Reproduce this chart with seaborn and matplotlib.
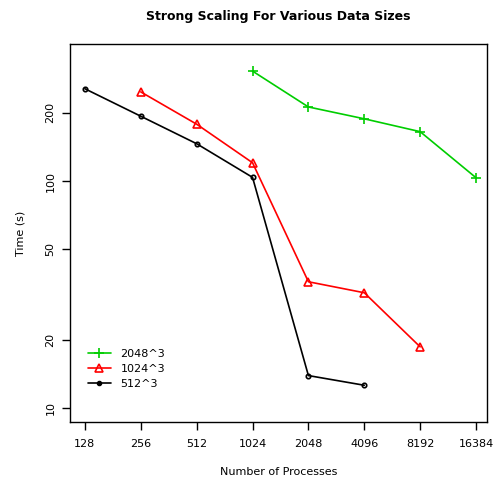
import matplotlib
matplotlib.use("Agg")
import matplotlib.pyplot as plt
import seaborn as sns
import pandas as pd
from matplotlib.lines import Line2D
from matplotlib.ticker import FixedLocator, NullLocator

procs_2048 = [1024, 2048, 4096, 8192, 16384]
time_2048 = [305, 212, 188, 165, 103.4]
procs_1024 = [256, 512, 1024, 2048, 4096, 8192]
time_1024 = [247, 178, 120.4, 36.0, 32.2, 18.6]
procs_512 = [128, 256, 512, 1024, 2048, 4096]
time_512 = [255, 193, 146, 103.8, 13.9, 12.6]

x_ticks = [128, 256, 512, 1024, 2048, 4096, 8192, 16384]
y_ticks = [10, 20, 50, 100, 200]
series_names = ["2048^3", "1024^3", "512^3"]
colors = ["#00CD00", "#FF0000", "#000000"]

df = pd.concat([
    pd.DataFrame({"procs": procs_2048, "time": time_2048, "size": series_names[0]}),
    pd.DataFrame({"procs": procs_1024, "time": time_1024, "size": series_names[1]}),
    pd.DataFrame({"procs": procs_512, "time": time_512, "size": series_names[2]}),
])

sns.set_style("white")
plt.rcParams["font.family"] = ["DejaVu Sans"]
plt.rcParams["text.color"] = "black"
plt.rcParams["axes.labelcolor"] = "black"

fig = plt.figure(figsize=(4.93, 4.83), dpi=100)
ax = fig.add_axes([70/493, 1-422/483, 417/493, 378/483])

markers = {"2048^3": "+", "1024^3": "^", "512^3": "o"}
msize = {"2048^3": 7.5, "1024^3": 6, "512^3": 3.2}
for name, col in zip(series_names, colors):
    sub = df[df["size"] == name]
    sns.lineplot(data=sub, x="procs", y="time", ax=ax, color=col, lw=1.2,
                 marker=markers[name], markersize=msize[name],
                 markerfacecolor="none" if name != "2048^3" else col,
                 markeredgecolor=col, markeredgewidth=1.2, legend=False)

ax.set_xscale("log", base=2)
ax.set_yscale("log")
ax.set_xlim(106.4, 18770)
ax.set_ylim(8.68, 401.5)
ax.xaxis.set_major_locator(FixedLocator(x_ticks))
ax.xaxis.set_minor_locator(NullLocator())
ax.set_xticklabels([str(v) for v in x_ticks])
ax.yaxis.set_major_locator(FixedLocator(y_ticks))
ax.yaxis.set_minor_locator(NullLocator())
ax.set_yticklabels([str(v) for v in y_ticks], rotation=90, va="center")

ax.tick_params(axis="both", direction="out", length=5.5, width=1, labelsize=8,
               color="black", labelcolor="black", left=True, bottom=True)
ax.tick_params(axis="x", pad=7)
ax.tick_params(axis="y", pad=5)
for s in ax.spines.values():
    s.set_visible(True)
    s.set_color("black")
    s.set_linewidth(1)

ax.set_xlabel("Number of Processes", fontsize=8, labelpad=13, color="black")
ax.set_ylabel("Time (s)", fontsize=8, labelpad=14, color="black")
ax.set_title("Strong Scaling For Various Data Sizes", fontsize=9,
             fontweight="bold", pad=17, color="black")

handles = [
    Line2D([], [], color=colors[0], marker="+", markersize=7.5, lw=1.2, markeredgewidth=1.2),
    Line2D([], [], color=colors[1], marker="^", markersize=6, lw=1.2,
           markerfacecolor="none", markeredgewidth=1.2),
    Line2D([], [], color=colors[2], marker="o", markersize=3, lw=1.2),
]
leg = ax.legend(handles, series_names, loc="lower left", bbox_to_anchor=(0.02, 0.062),
                frameon=False, fontsize=8, handlelength=2.0, labelspacing=0.44,
                handletextpad=0.9)
for t in leg.get_texts():
    t.set_color("black")

fig.savefig("out.png", dpi=100)
